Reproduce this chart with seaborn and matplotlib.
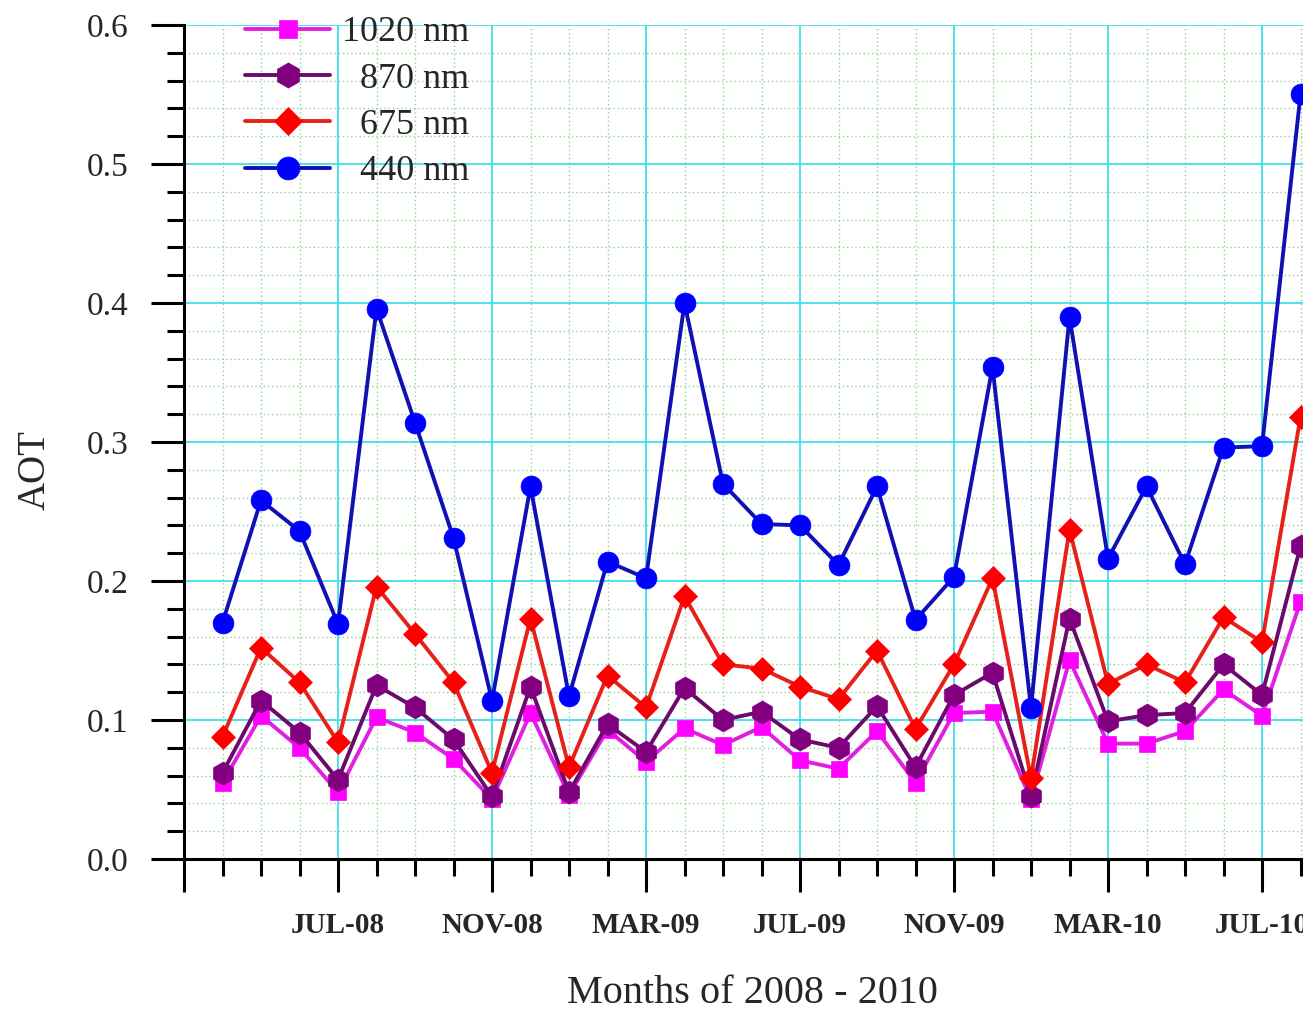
import matplotlib
matplotlib.use("Agg")
import matplotlib.pyplot as plt
from matplotlib.ticker import FixedLocator, MultipleLocator, FormatStrFormatter
import seaborn as sns

# months counted from MAR-08 (= 0); data runs APR-08 .. AUG-10
month_idx = list(range(1, 30))
major_ticks = [0, 4, 8, 12, 16, 20, 24, 28]
major_labels = ["", "JUL-08", "NOV-08", "MAR-09", "JUL-09", "NOV-09", "MAR-10", "JUL-10"]

aot_1020 = [0.055, 0.103, 0.080, 0.048, 0.102, 0.091, 0.072, 0.043, 0.105, 0.046,
            0.093, 0.070, 0.094, 0.082, 0.095, 0.071, 0.065, 0.092, 0.055, 0.105,
            0.106, 0.043, 0.143, 0.083, 0.083, 0.092, 0.122, 0.103, 0.185]
aot_870 = [0.062, 0.114, 0.091, 0.057, 0.125, 0.109, 0.086, 0.045, 0.124, 0.048,
           0.097, 0.077, 0.123, 0.100, 0.106, 0.086, 0.080, 0.110, 0.066, 0.118,
           0.134, 0.045, 0.173, 0.099, 0.1035, 0.105, 0.140, 0.118, 0.225]
aot_675 = [0.088, 0.152, 0.127, 0.084, 0.196, 0.162, 0.127, 0.062, 0.173, 0.066,
           0.132, 0.109, 0.189, 0.140, 0.137, 0.124, 0.115, 0.150, 0.0935, 0.140,
           0.202, 0.058, 0.237, 0.126, 0.140, 0.127, 0.174, 0.156, 0.318]
aot_440 = [0.170, 0.258, 0.236, 0.169, 0.396, 0.314, 0.231, 0.114, 0.268, 0.117,
           0.214, 0.202, 0.400, 0.270, 0.241, 0.240, 0.2115, 0.268, 0.172, 0.203,
           0.354, 0.1085, 0.390, 0.216, 0.268, 0.212, 0.296, 0.297, 0.550]

sns.set_style("ticks")
plt.rcParams["font.family"] = ["Liberation Serif", "DejaVu Serif"]

fig = plt.figure(figsize=(13.03, 10.10), dpi=100)
# axis runs past the right edge of the picture, as in the original scan
ax = fig.add_axes([184 / 1303, 151 / 1010, 1155 / 1303, 834 / 1010])

series = [
    ("1020 nm", aot_1020, "s", 12, "#e020e0", "#ff00ff"),
    ("  870 nm", aot_870, "h", 16.5, "#6a0a6a", "#800080"),
    ("  675 nm", aot_675, "D", 12.5, "#e8201a", "#ff0000"),
    ("  440 nm", aot_440, "o", 15, "#1010b4", "#0000ff"),
]
for label, vals, mk, ms, lc, mc in series:
    sns.lineplot(x=month_idx, y=vals, ax=ax, label=label, color=lc, lw=2.8,
                 marker=mk, markersize=ms, markerfacecolor=mc,
                 markeredgecolor=mc, markeredgewidth=0.5)

ax.set_xlim(0, 30)
ax.set_ylim(0, 0.6)

ax.xaxis.set_major_locator(FixedLocator(major_ticks))
ax.set_xticklabels(major_labels)
ax.xaxis.set_minor_locator(MultipleLocator(1))
ax.yaxis.set_major_locator(MultipleLocator(0.1))
ax.yaxis.set_minor_locator(MultipleLocator(0.02))
ax.yaxis.set_major_formatter(FormatStrFormatter("%.1f"))

ax.tick_params(which="major", direction="out", length=24, width=2.2, color="black")
ax.tick_params(which="minor", direction="out", length=12.5, width=2.2, color="black")
ax.tick_params(axis="x", which="major", pad=14, labelsize=21)
ax.tick_params(axis="y", which="major", pad=16, labelsize=24)
for t in ax.get_xticklabels():
    t.set_fontweight("bold")

ax.set_axisbelow(True)
ax.grid(which="major", color="#3ee0ea", lw=1.3, ls="-")
ax.grid(which="minor", color="#8fd48f", lw=1.0, ls=(0, (1, 2)))

for side in ["top", "right"]:
    ax.spines[side].set_visible(False)
for side in ["left", "bottom"]:
    ax.spines[side].set_linewidth(2.2)
    ax.spines[side].set_color("black")

ax.set_xlabel("Months of 2008 - 2010", fontsize=29)
ax.set_ylabel("AOT", fontsize=28)
ax.xaxis.label.set_va("center")
ax.yaxis.label.set_va("center")
ax.xaxis.set_label_coords(0.4918, -0.161)
ax.yaxis.set_label_coords(-0.129, 0.466)

ax.legend(loc="upper left", bbox_to_anchor=(245 / 1303, 0.984),
          bbox_transform=fig.transFigure, frameon=False, fontsize=26,
          handlelength=2.36, handletextpad=0.33, labelspacing=0.36,
          borderpad=0, borderaxespad=0, markerscale=1.1)

fig.savefig("out.png", dpi=100)
